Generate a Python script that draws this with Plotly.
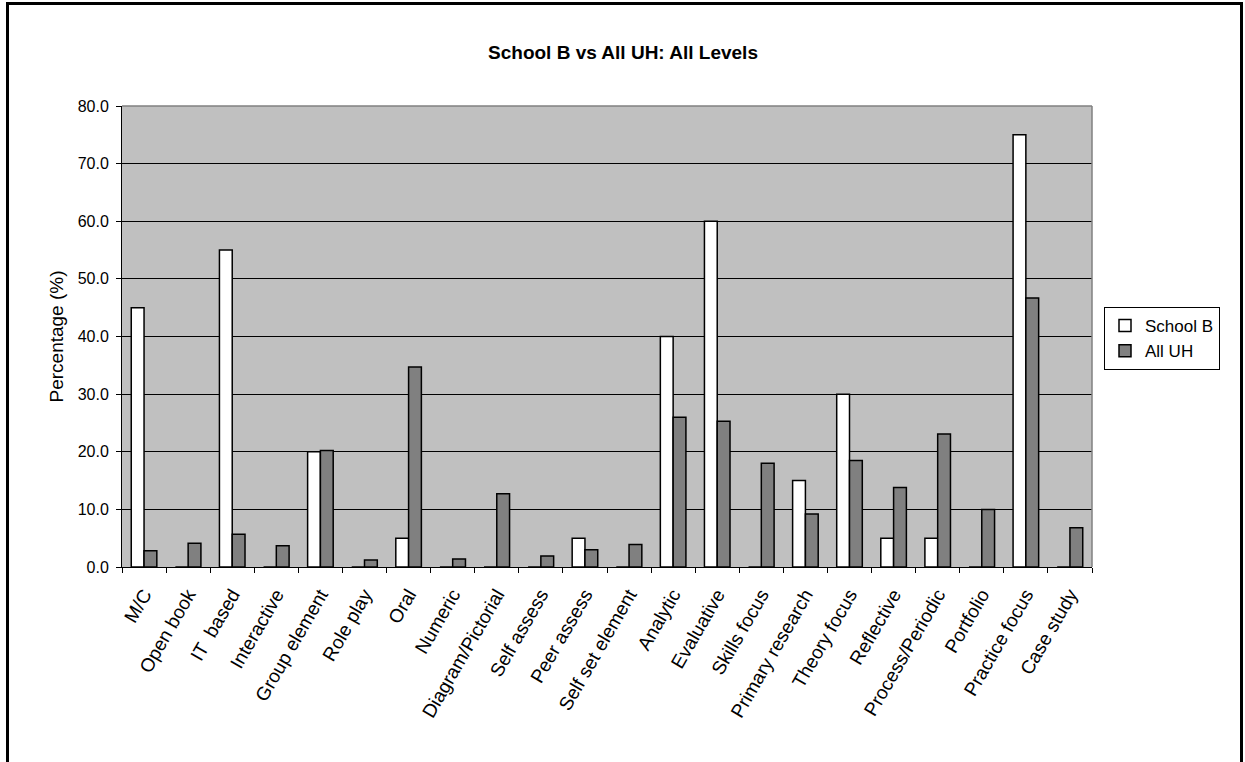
import plotly.graph_objects as go

categories = ["M/C", "Open book", "IT  based", "Interactive", "Group element", "Role play",
              "Oral", "Numeric", "Diagram/Pictorial", "Self assess", "Peer assess",
              "Self set element", "Analytic", "Evaluative", "Skills focus", "Primary research",
              "Theory focus", "Reflective", "Process/Periodic", "Portfolio", "Practice focus",
              "Case study"]
school_b = [45.0, 0, 55.0, 0, 20.0, 0, 5.0, 0, 0, 0, 5.0, 0, 40.0, 60.0, 0, 15.0,
            30.0, 5.0, 5.0, 0, 75.0, 0]
all_uh = [2.8, 4.1, 5.7, 3.7, 20.2, 1.2, 34.7, 1.4, 12.7, 1.9, 3.0, 3.9, 26.0, 25.3,
          18.0, 9.2, 18.5, 13.8, 23.1, 10.0, 46.7, 6.8]
y_ticks = [0, 10, 20, 30, 40, 50, 60, 70, 80]

W, H = 1245, 762
L, R, T, B = 122, 1092, 106, 567
pw, ph = R - L, B - T


def px(x):
    return (x - L) / pw


def py(y):
    return (B - y) / ph


FONT = "Liberation Sans, Arial, sans-serif"

fig = go.Figure()
fig.add_trace(go.Bar(name="School B", x=categories, y=school_b,
                     marker=dict(color="#FFFFFF", line=dict(color="#000000", width=1.5))))
fig.add_trace(go.Bar(name="All UH", x=categories, y=all_uh,
                     marker=dict(color="#808080", line=dict(color="#000000", width=1.5))))

fig.update_layout(
    width=W, height=H,
    margin=dict(l=L, r=W - R, t=T, b=H - B, autoexpand=False),
    paper_bgcolor="#FFFFFF",
    plot_bgcolor="#C0C0C0",
    barmode="group", bargap=0.42, bargroupgap=0,
    font=dict(family=FONT, size=16, color="#000000"),
    title=dict(text="<b>School B vs All UH: All Levels</b>", x=px(623), xref="paper",
               xanchor="center", y=1 - 52 / H, yanchor="middle",
               font=dict(family=FONT, size=19, color="#000000")),
    showlegend=True,
    legend=dict(x=px(1104), y=py(307), xanchor="left", yanchor="top",
                bgcolor="#FFFFFF", bordercolor="#000000", borderwidth=1,
                font=dict(family=FONT, size=17, color="#000000"),
                tracegroupgap=0, itemwidth=30),
    xaxis=dict(type="category", tickangle=-60, tickson="boundaries",
               ticks="outside", ticklen=5, tickcolor="#000000", tickwidth=1,
               ticklabelstandoff=8,
               showline=True, linecolor="#000000", linewidth=1,
               showgrid=False, tickfont=dict(family=FONT, size=19, color="#000000")),
    yaxis=dict(range=[0, 80], tickvals=y_ticks, tickformat=".1f",
               ticks="outside", ticklen=5, tickcolor="#000000", tickwidth=1,
               ticklabelstandoff=4,
               showline=True, linecolor="#000000", linewidth=1,
               showgrid=True, gridcolor="#000000", gridwidth=1, zeroline=False,
               title=dict(text="Percentage (%)", standoff=9,
                          font=dict(family=FONT, size=19, color="#000000")),
               tickfont=dict(family=FONT, size=16, color="#000000")),
)

# plot area border (top and right, gray)
fig.add_shape(type="line", xref="paper", yref="paper", x0=0, x1=1, y0=1, y1=1,
              line=dict(color="#808080", width=1.5), layer="above")
fig.add_shape(type="line", xref="paper", yref="paper", x0=1, x1=1, y0=0, y1=1,
              line=dict(color="#808080", width=1.5), layer="above")

# outer chart frame (left, top, right)
fig.add_shape(type="rect", xref="paper", yref="paper",
              x0=px(7.5), x1=px(1241.5), y0=py(800), y1=py(3.5),
              line=dict(color="#000000", width=3), fillcolor="rgba(0,0,0,0)",
              layer="above")

fig.write_html("out.html",
               config={"displayModeBar": False},
               post_script="document.body.style.margin='0px';"
                           "document.body.style.overflow='hidden';")
